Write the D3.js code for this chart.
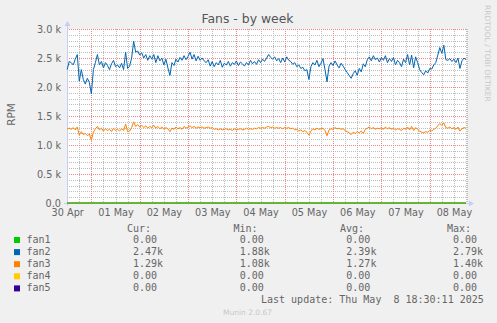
<!DOCTYPE html>
<html>
<head>
<meta charset="utf-8">
<script src="https://cdn.jsdelivr.net/npm/d3@7"></script>
<style>
  html, body { margin: 0; padding: 0; background: #F0F0F0; }
  svg { display: block; }
</style>
</head>
<body>
<script>
// ---- data -------------------------------------------------------------
const chartTitle = "Fans - by week";
const yAxisTitle = "RPM";
const rangeStart = Date.UTC(2025, 3, 30, 11, 54);
const rangeEnd   = Date.UTC(2025, 4, 8, 18, 30);
const firstSample = Date.UTC(2025, 3, 30, 12, 0);   // hourly samples from here
const sampleStepMs = 3600 * 1000;

const fan2 = [
  2300, 2440, 2420, 2380, 2480, 2560, 2100, 2300, 2130, 2050,
  2150, 2080, 1880, 2300, 2420, 2560, 2380, 2440, 2330, 2420,
  2370, 2300, 2400, 2460, 2350, 2380, 2330, 2410, 2300, 2600,
  2320, 2360, 2500, 2790, 2600, 2620, 2550, 2590, 2500, 2560,
  2460, 2540, 2480, 2560, 2420, 2540, 2450, 2500, 2380, 2480,
  2330, 2200, 2420, 2370, 2480, 2430, 2510, 2460, 2540, 2470,
  2530, 2600, 2480, 2560, 2450, 2530, 2460, 2500, 2450, 2420,
  2470, 2360, 2440, 2350, 2420, 2380, 2460, 2340, 2410, 2380,
  2440, 2360, 2420, 2390, 2450, 2370, 2430, 2400, 2360, 2420,
  2380, 2460, 2400, 2440, 2390, 2470, 2420, 2480, 2440, 2500,
  2560, 2510, 2480, 2520, 2450, 2490, 2420, 2500, 2430, 2520,
  2460, 2440, 2390, 2420, 2350, 2380, 2320, 2340, 2280, 2300,
  2130, 2350, 2420, 2380, 2460, 2350, 2410, 2490, 2300, 2090,
  2360, 2420, 2370, 2450, 2380, 2330, 2410, 2360, 2300, 2250,
  2200, 2150, 2230, 2280, 2200, 2320, 2260, 2400, 2350, 2470,
  2520, 2450, 2540, 2470, 2500, 2430, 2510, 2460, 2540, 2420,
  2490, 2440, 2510, 2380, 2460, 2420, 2350, 2480, 2420, 2560,
  2380, 2550, 2330, 2520, 2420, 2300, 2250, 2210, 2280, 2240,
  2320, 2310, 2380, 2420, 2550, 2680, 2580, 2720, 2470, 2460,
  2490, 2440, 2480, 2420, 2500, 2320, 2450, 2500, 2470
];

const fan3 = [
  1280, 1290, 1270, 1300, 1260, 1310, 1170, 1230, 1180, 1200,
  1160, 1190, 1080, 1220, 1280, 1320, 1260, 1290, 1240, 1280,
  1250, 1270, 1230, 1290, 1250, 1270, 1240, 1280, 1250, 1360,
  1230, 1240, 1300, 1400, 1320, 1350, 1310, 1340, 1300, 1330,
  1290, 1320, 1300, 1340, 1290, 1320, 1280, 1310, 1270, 1300,
  1280, 1230, 1290, 1270, 1310, 1280, 1300, 1270, 1320, 1290,
  1310, 1330, 1300, 1320, 1290, 1310, 1300, 1310, 1290, 1300,
  1310, 1290, 1300, 1270, 1280, 1260, 1280, 1260, 1270, 1280,
  1260, 1270, 1250, 1280, 1260, 1270, 1280, 1260, 1270, 1290,
  1270, 1280, 1270, 1290, 1280, 1300, 1290, 1300, 1290, 1310,
  1320, 1300, 1310, 1290, 1300, 1290, 1300, 1280, 1300, 1290,
  1300, 1280, 1290, 1260, 1270, 1240, 1260, 1230, 1250, 1220,
  1170, 1240, 1280, 1260, 1290, 1270, 1280, 1290, 1250, 1160,
  1260, 1280, 1270, 1300, 1280, 1290, 1270, 1280, 1250, 1230,
  1210, 1180, 1220, 1200, 1230, 1210, 1240, 1200, 1270, 1290,
  1310, 1280, 1300, 1270, 1290, 1280, 1300, 1270, 1310, 1280,
  1300, 1270, 1290, 1260, 1280, 1270, 1250, 1290, 1270, 1310,
  1260, 1320, 1250, 1300, 1270, 1240, 1220, 1210, 1230, 1220,
  1250, 1240, 1270, 1290, 1330, 1370, 1340, 1380, 1300, 1290,
  1310, 1280, 1300, 1270, 1310, 1240, 1280, 1300, 1290
];

// fan1, fan4 and fan5 read 0 RPM for the whole week
const fan1 = new Array(fan2.length).fill(0);
const fan4 = new Array(fan2.length).fill(0);
const fan5 = new Array(fan2.length).fill(0);

const seriesNames  = ["fan1", "fan2", "fan3", "fan4", "fan5"];
const seriesValues = [fan1, fan2, fan3, fan4, fan5];
const seriesColors = ["#00CC00", "#0066B3", "#FF8000", "#FFCC00", "#330099"];

const curLabels = ["0.00", "2.47k", "1.29k", "0.00", "0.00"];
const minLabels = ["0.00", "1.88k", "1.08k", "0.00", "0.00"];
const avgLabels = ["0.00", "2.39k", "1.27k", "0.00", "0.00"];
const maxLabels = ["0.00", "2.79k", "1.40k", "0.00", "0.00"];

const yTickValues = [0, 500, 1000, 1500, 2000, 2500, 3000];
const yTickLabels = ["0.0", "0.5 k", "1.0 k", "1.5 k", "2.0 k", "2.5 k", "3.0 k"];
const lastUpdate = "Last update: Thu May  8 18:30:11 2025";
const sideNote = "RRDTOOL / TOBI OETIKER";
const footer = "Munin 2.0.67";

// ---- layout -----------------------------------------------------------
const W = 497, H = 323;
const plot = { left: 67, right: 467, top: 29, bottom: 203 };
const AXIS = "#C6CEF4";
const FONT = "#666666";
const sans = "'DejaVu Sans', sans-serif";
const mono = "'DejaVu Sans Mono', monospace";

const svg = d3.select("body").append("svg")
  .attr("width", W).attr("height", H);

svg.append("rect").attr("width", W).attr("height", H).attr("fill", "#F0F0F0");
svg.append("rect")
  .attr("x", plot.left).attr("y", plot.top)
  .attr("width", plot.right - plot.left).attr("height", plot.bottom - plot.top)
  .attr("fill", "#FFFFFF");

const x = d3.scaleUtc().domain([rangeStart, rangeEnd]).range([plot.left, plot.right]);
const y = d3.scaleLinear().domain([0, 3000]).range([plot.bottom, plot.top]);

const px = v => Math.round(v) + 0.5;

// ---- grid -------------------------------------------------------------
const grid = svg.append("g");
const minorHours = d3.utcHour.every(6).range(new Date(rangeStart), new Date(rangeEnd))
  .filter(d => d.getUTCHours() !== 0);
const days = d3.utcDay.range(new Date(rangeStart), new Date(rangeEnd));
const minorRpm = d3.range(100, 3001, 100).filter(v => v % 500 !== 0);

grid.selectAll(".vminor").data(minorHours).join("line")
  .attr("x1", d => px(x(d))).attr("x2", d => px(x(d)))
  .attr("y1", plot.top).attr("y2", plot.bottom)
  .attr("stroke", "#BDBDBD").attr("stroke-dasharray", "1,1");
grid.selectAll(".hminor").data(minorRpm).join("line")
  .attr("x1", plot.left).attr("x2", plot.right)
  .attr("y1", d => px(y(d))).attr("y2", d => px(y(d)))
  .attr("stroke", "#BDBDBD").attr("stroke-dasharray", "1,1");
grid.selectAll(".vmajor").data(days).join("line")
  .attr("x1", d => px(x(d))).attr("x2", d => px(x(d)))
  .attr("y1", plot.top).attr("y2", plot.bottom)
  .attr("stroke", "#EE8888").attr("stroke-dasharray", "1,1");
grid.selectAll(".hmajor").data(yTickValues.slice(1)).join("line")
  .attr("x1", plot.left).attr("x2", plot.right)
  .attr("y1", d => px(y(d))).attr("y2", d => px(y(d)))
  .attr("stroke", "#EE8888").attr("stroke-dasharray", "1,1");

// right-hand edge grid line
grid.append("line")
  .attr("x1", plot.right + 0.5).attr("x2", plot.right + 0.5)
  .attr("y1", plot.top).attr("y2", plot.bottom)
  .attr("stroke", "#BDBDBD").attr("stroke-dasharray", "1,1");

// ---- axes -------------------------------------------------------------
const axisG = svg.append("g");
axisG.append("line")
  .attr("x1", plot.left - 3).attr("x2", plot.right + 4)
  .attr("y1", plot.bottom + 0.5).attr("y2", plot.bottom + 0.5)
  .attr("stroke", AXIS);
axisG.append("line")
  .attr("x1", plot.left + 0.5).attr("x2", plot.left + 0.5)
  .attr("y1", plot.bottom + 3).attr("y2", plot.top - 4)
  .attr("stroke", AXIS);
axisG.append("path")
  .attr("d", `M${plot.right + 2},${plot.bottom - 2.5} L${plot.right + 7},${plot.bottom + 0.5} L${plot.right + 2},${plot.bottom + 3.5} Z`)
  .attr("fill", AXIS);
axisG.append("path")
  .attr("d", `M${plot.left - 2.5},${plot.top - 3} L${plot.left + 0.5},${plot.top - 8} L${plot.left + 3.5},${plot.top - 3} Z`)
  .attr("fill", AXIS);

// ---- series -----------------------------------------------------------
const line = d3.line()
  .x((d, i) => x(firstSample + i * sampleStepMs))
  .y(d => y(d));

const drawOrder = [4, 3, 2, 1, 0];
svg.append("g").selectAll("path").data(drawOrder).join("path")
  .attr("d", i => line(seriesValues[i]))
  .attr("fill", "none")
  .attr("stroke", i => seriesColors[i])
  .attr("stroke-width", 1);

// ---- tick labels ------------------------------------------------------
const yAxis = d3.axisLeft(y)
  .tickValues(yTickValues)
  .tickFormat((d, i) => yTickLabels[i])
  .tickSize(0).tickPadding(6);
const yg = svg.append("g").attr("transform", `translate(${plot.left},0)`).call(yAxis);
yg.select(".domain").remove();
yg.selectAll("text").attr("fill", FONT).style("font-family", sans).style("font-size", "9.7px");

const noonTicks = days.map(d => d3.utcHour.offset(d, -12))
  .concat([d3.utcHour.offset(days[days.length - 1], 12)])
  .filter(d => +d >= rangeStart - 3600e3 && +d <= rangeEnd);
const xAxis = d3.axisBottom(x)
  .tickValues(noonTicks)
  .tickFormat(d3.utcFormat("%d %b"))
  .tickSize(0).tickPadding(6);
const xg = svg.append("g").attr("transform", `translate(0,${plot.bottom})`).call(xAxis);
xg.select(".domain").remove();
xg.selectAll("text").attr("fill", FONT).style("font-family", sans).style("font-size", "9.7px");

// ---- titles -----------------------------------------------------------
svg.append("text")
  .attr("x", 247.5).attr("y", 23)
  .attr("text-anchor", "middle")
  .attr("fill", "#555").style("font-family", sans).style("font-size", "12.4px")
  .text(chartTitle);

svg.append("text")
  .attr("transform", "translate(15,114.5) rotate(-90)")
  .attr("text-anchor", "middle")
  .attr("fill", FONT).style("font-family", sans).style("font-size", "10.5px")
  .text(yAxisTitle);

svg.append("text")
  .attr("transform", "translate(485,5) rotate(90)")
  .attr("fill", "#C8C8C8").style("font-family", sans).style("font-size", "7.5px")
  .text(sideNote);

// ---- legend -----------------------------------------------------------
const legend = svg.append("g")
  .style("font-family", mono).style("font-size", "10px")
  .style("white-space", "pre")
  .attr("fill", FONT);
const colX = [127, 233.5, 340, 447];
const valX = [133, 239.7, 346.3, 453];
["Cur:", "Min:", "Avg:", "Max:"].forEach((h, i) => {
  legend.append("text").attr("x", colX[i]).attr("y", 232).text(h);
});

const rows = legend.selectAll(".row").data(seriesNames).join("g")
  .attr("transform", (d, i) => `translate(0,${243 + i * 12.1})`);
rows.append("rect")
  .attr("x", 14).attr("y", -6).attr("width", 6).attr("height", 6)
  .attr("fill", (d, i) => seriesColors[i]);
rows.append("text").attr("x", 26.5).attr("y", 0).text(d => d);
[curLabels, minLabels, avgLabels, maxLabels].forEach((col, c) => {
  rows.append("text").attr("x", valX[c]).attr("y", 0).text((d, i) => col[i]);
});

legend.append("text")
  .attr("x", 261).attr("y", 303)
  .attr("xml:space", "preserve")
  .text(lastUpdate);

svg.append("text")
  .attr("x", 223).attr("y", 315)
  .attr("fill", "#C8C8C8").style("font-family", sans).style("font-size", "7.5px")
  .text(footer);
</script>
</body>
</html>
